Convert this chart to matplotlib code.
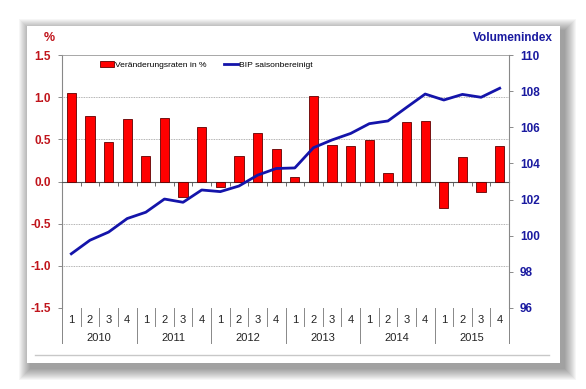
import matplotlib.pyplot as plt
import matplotlib.transforms as mtransforms
from matplotlib.patches import Rectangle
import numpy as np

plt.rcParams['font.family'] = ['Liberation Sans', 'DejaVu Sans']

years = ['2010', '2011', '2012', '2013', '2014', '2015']
quarters = ['1', '2', '3', '4']
changes = [1.05, 0.78, 0.47, 0.74,
           0.30, 0.75, -0.18, 0.65,
           -0.06, 0.30, 0.57, 0.39,
           0.05, 1.01, 0.43, 0.42,
           0.49, 0.10, 0.70, 0.72,
           -0.32, 0.29, -0.13, 0.42]
volume = [99.0, 99.75, 100.2, 100.95,
          101.3, 102.03, 101.85, 102.53,
          102.44, 102.75, 103.35, 103.72,
          103.75, 104.87, 105.3, 105.66,
          106.2, 106.35, 107.1, 107.84,
          107.51, 107.82, 107.66, 108.16]

red = '#FF0000'
darkred = '#C0141B'
blue = '#1414AA'
navy = '#1A1AA0'

fig = plt.figure(figsize=(5.86, 3.89), dpi=100)
fig.patch.set_facecolor('white')

# soft card shadow, then the card
W, H = 586.0, 389.0
for d in range(12, 0, -1):
    fig.patches.append(Rectangle(((27 - d + 4) / W, 1 - (363 + d + 5) / H),
                                 (533 + 2 * d) / W, (337 + 2 * d) / H,
                                 transform=fig.transFigure, facecolor='black',
                                 alpha=0.035, edgecolor='none', zorder=0))
fig.patches.append(Rectangle((27 / W, 1 - 363 / H), 533 / W, 337 / H,
                             transform=fig.transFigure, facecolor='white',
                             edgecolor='none', zorder=1))
fig.lines.append(plt.Line2D([35 / W, 549 / W], [1 - 355 / H, 1 - 355 / H],
                            transform=fig.transFigure, color='#C8C8C8', lw=1, zorder=2))

ax = fig.add_axes([62 / W, 1 - 308 / H, 447 / W, 253 / H], zorder=3)
ax.patch.set_alpha(0)
n = len(changes)
x = np.arange(n)
ax.bar(x, changes, width=0.5, color=red, edgecolor='#600000', linewidth=0.6,
       zorder=3, label='Veränderungsraten in %')
ax.set_xlim(-0.5, n - 0.5)
ax.set_ylim(-1.5, 1.5)
ax.set_yticks(np.arange(-1.5, 1.51, 0.5))
ax.set_yticklabels(['%.1f' % v for v in np.arange(-1.5, 1.51, 0.5)])
for v in [-1.0, -0.5, 0.5, 1.0]:
    ax.axhline(v, color='#999999', lw=0.6, ls=(0, (1, 1)), zorder=1)
ax.tick_params(axis='y', colors='#777777', length=3, width=0.6, labelsize=8.5,
               labelcolor=darkred, pad=5)
for t in ax.get_yticklabels():
    t.set_fontweight('bold')

# zero axis with ticks between categories
ax.spines['bottom'].set_position(('data', 0))
ax.spines['bottom'].set_color('#555555')
ax.spines['bottom'].set_linewidth(0.8)
ax.set_xticks(np.arange(0.5, n - 0.5, 1))
ax.tick_params(axis='x', length=3, width=0.6, color='#555555', labelbottom=False)
ax.spines['top'].set_color('#999999')
ax.spines['top'].set_linewidth(0.6)
ax.spines['left'].set_color('#888888')
ax.spines['right'].set_visible(False)
ax.spines['left'].set_bounds(-1.5, 1.5)

# category labels under the plot
tr = mtransforms.blended_transform_factory(ax.transData, ax.transAxes)
qh = 18 / 253.0
yh = 35 / 253.0
for i in range(n):
    ax.text(x[i], -0.049, quarters[i % 4], transform=tr, ha='center', va='center',
            fontsize=8, color='#222222')
for b in range(n + 1):
    depth = yh if b % 4 == 0 else qh
    ax.plot([b - 0.5, b - 0.5], [0, -depth], transform=tr, color='#888888',
            lw=0.7, clip_on=False)
for j, yr in enumerate(years):
    ax.text(j * 4 + 1.5, -0.117, yr, transform=tr, ha='center', va='center',
            fontsize=8, color='#222222')

ax2 = ax.twinx()
ax2.plot(x, volume, color=blue, lw=2, zorder=4, label='BIP saisonbereinigt')
ax2.set_ylim(96, 110)
ax2.set_yticks(np.arange(96, 111, 2))
ax2.tick_params(axis='y', colors='#777777', length=3, width=0.6, labelsize=8.5,
                labelcolor=navy, pad=5)
for t in ax2.get_yticklabels():
    t.set_fontweight('bold')
for s in ['top', 'left', 'bottom']:
    ax2.spines[s].set_visible(False)
ax2.spines['right'].set_color('#888888')
ax2.spines['right'].set_bounds(96, 110)
ax2.plot([1, 1], [0, -yh], transform=ax2.transAxes, color='#888888', lw=0.7,
         clip_on=False)
ax.plot([0, 0], [0, -yh], transform=ax.transAxes, color='#888888', lw=0.7,
        clip_on=False)

h1, l1 = ax.get_legend_handles_labels()
h2, l2 = ax2.get_legend_handles_labels()
leg = ax.legend(h1 + h2, l1 + l2, loc='upper left', bbox_to_anchor=(0.068, 1.005),
                ncol=2, frameon=False, fontsize=6.1, handlelength=1.7,
                handleheight=0.65, columnspacing=2.0, handletextpad=0.1)

fig.text(49 / W, 1 - 38 / H, '%', color=darkred, fontsize=9, fontweight='bold',
         ha='center', va='center')
fig.text(513 / W, 1 - 38 / H, 'Volumenindex', color=navy, fontsize=8.5,
         fontweight='bold', ha='center', va='center')

fig.savefig('out.png', dpi=100)
